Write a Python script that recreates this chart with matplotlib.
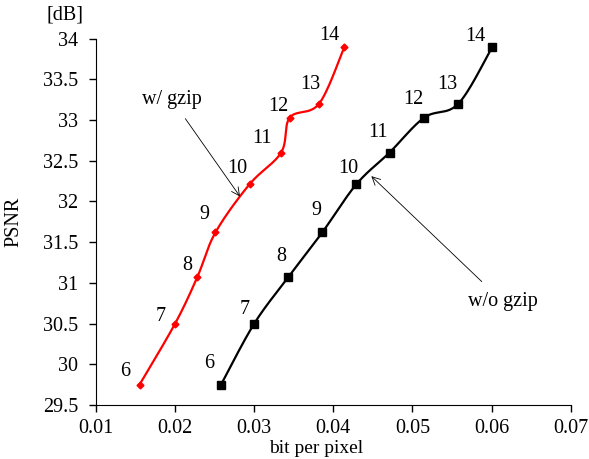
import numpy as np
import matplotlib
matplotlib.use("Agg")
import matplotlib.pyplot as plt

plt.rcParams['font.family'] = ['Liberation Serif', 'DejaVu Serif']
plt.rcParams['font.size'] = 14.5

# donnees
labels = ['6', '7', '8', '9', '10', '11', '12', '13', '14']
psnr = [29.75, 30.5, 31.07, 31.62, 32.21, 32.6, 33.03, 33.2, 33.9]
bpp_gzip = [0.0155, 0.0200, 0.0228, 0.0251, 0.0294, 0.0334, 0.0345, 0.0382, 0.0414]
bpp_nogzip = [0.0258, 0.0300, 0.0343, 0.0386, 0.0429, 0.0471, 0.0515, 0.0558, 0.0601]

# decalage des etiquettes (pixels)
off_gzip = [(-14, 13), (-14, 7), (-10, 12), (-11, 18), (-12, 16), (-19, 14), (-12, 11), (-9, 19), (-15, 11)]
off_nogzip = [(-12, 21), (-10, 14), (-7, 21), (-6, 22), (-8, 16), (-12, 20), (-11, 18), (-11, 19), (-17, 10)]


# courbe lissee facon Excel (Catmull-Rom -> Bezier)
def lisser(x, y, n=30):
    p = np.column_stack([np.array(x) * 100, np.array(y)])
    p = np.vstack([p[0], p, p[-1]])
    out = []
    for i in range(1, len(p) - 2):
        p0, p1, p2, p3 = p[i - 1], p[i], p[i + 1], p[i + 2]
        c1 = p1 + (p2 - p0) / 6
        c2 = p2 - (p3 - p1) / 6
        t = np.linspace(0, 1, n)[:, None]
        b = (1 - t) ** 3 * p1 + 3 * (1 - t) ** 2 * t * c1 + 3 * (1 - t) * t ** 2 * c2 + t ** 3 * p2
        out.append(b if i == 1 else b[1:])
    out = np.vstack(out)
    return out[:, 0] / 100, out[:, 1]


fig = plt.figure(figsize=(5.89, 4.59), dpi=100)
ax = fig.add_axes([0.163, 0.1176, 0.806, 0.7985])

xs, ys = lisser(bpp_gzip, psnr)
ax.plot(xs, ys, color='red', lw=1.6)
ax.plot(bpp_gzip, psnr, 'D', color='red', ms=3.5)
xs, ys = lisser(bpp_nogzip, psnr)
ax.plot(xs, ys, color='black', lw=1.6)
ax.plot(bpp_nogzip, psnr, 's', color='black', ms=6)

for lab, x, y, o in zip(labels, bpp_gzip, psnr, off_gzip):
    ax.annotate(lab, (x, y), xytext=o, textcoords='offset pixels', ha='center', va='center')
for lab, x, y, o in zip(labels, bpp_nogzip, psnr, off_nogzip):
    ax.annotate(lab, (x, y), xytext=o, textcoords='offset pixels', ha='center', va='center')

ax.annotate('w/ gzip', xy=(0.0282, 32.06), xytext=(0.0196, 33.25), ha='center', va='center',
            arrowprops=dict(arrowstyle='->', color='black', lw=0.6, shrinkA=6, shrinkB=0))
ax.annotate('w/o gzip', xy=(0.0448, 32.31), xytext=(0.0614, 30.77), ha='center', va='center',
            arrowprops=dict(arrowstyle='->', color='black', lw=0.6, shrinkA=8, shrinkB=0))

ax.set_xlim(0.01, 0.07)
ax.set_ylim(29.5, 34)
ax.set_xticks([0.01, 0.02, 0.03, 0.04, 0.05, 0.06, 0.07])
ax.set_xticklabels(['0.01', '0.02', '0.03', '0.04', '0.05', '0.06', '0.07'])
ax.set_yticks([29.5, 30, 30.5, 31, 31.5, 32, 32.5, 33, 33.5, 34])
ax.set_yticklabels(['29.5', '30', '30.5', '31', '31.5', '32', '32.5', '33', '33.5', '34'])
ax.spines['top'].set_visible(False)
ax.spines['right'].set_visible(False)
ax.tick_params(direction='out', length=5, width=1, pad=8, labelsize=14.5)
ax.tick_params(axis='x', pad=5)
ax.set_xlabel('bit per pixel', fontsize=14)
ax.set_ylabel('PSNR')
ax.xaxis.set_label_coords(0.463, -0.096)
ax.yaxis.set_label_coords(-0.152, 0.5)
fig.text(65 / 589, 1 - 15 / 459, '[dB]', ha='center', va='center')

fig.savefig('out.png', dpi=100)
